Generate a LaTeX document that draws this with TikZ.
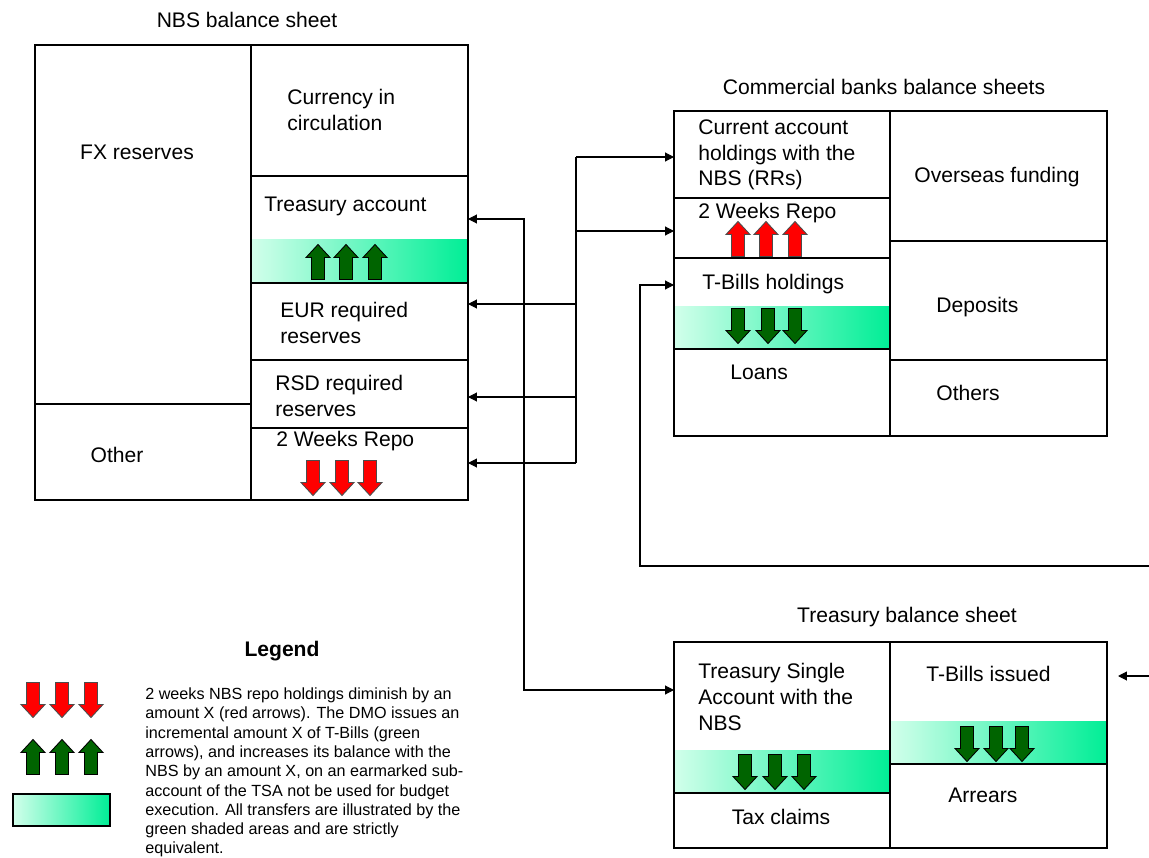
\documentclass[tikz,border=0pt]{standalone}
\usepackage{fontspec}
\setmainfont{Liberation Sans}
\usetikzlibrary{arrows.meta}

\definecolor{mintpale}{RGB}{210,255,235}
\definecolor{mintbright}{RGB}{0,238,150}
\definecolor{arrred}{RGB}{255,0,0}
\definecolor{arrgreen}{RGB}{0,100,0}

\tikzset{
    cell/.style={draw, line width=0.6pt},
    lbl/.style={font=\fontsize{12}{14.6}\selectfont, align=left, inner sep=0pt},
    note/.style={font=\fontsize{9.2}{11}\selectfont, align=left, inner sep=0pt},
    band/.style={left color=mintpale, right color=mintbright},
    flow/.style={line width=0.6pt, -{Triangle[length=5pt,width=5pt]}},
    uparr/.pic={\draw[pic actions, line width=0.5pt] (-6.5,17.5) -- (6.5,17.5) -- (6.5,-4.5) -- (12,-4.5) -- (0,-17.5) -- (-12,-4.5) -- (-6.5,-4.5) -- cycle;},
    redup/.style={fill=arrred, draw=black!70},
    greenup/.style={fill=arrgreen, draw=black}
}

\begin{document}
\begin{tikzpicture}[x=0.02cm, y=-0.02cm]
    \useasboundingbox (0,0) rectangle (1149,858);

    % NBS balance sheet
    \shade[band] (251,240) rectangle (468,283);
    \draw[cell] (35,45) rectangle (468,500);
    \draw[cell] (251,45) -- (251,500);
    \draw[cell] (35,404) -- (251,404);
    \foreach \y in {176,283,360,428}
        \draw[cell] (251,\y) -- (468,\y);
    \node[lbl] (nbstitle) at (247,20) {NBS balance sheet};
    \node[lbl] (fx) at (137,152) {FX reserves};
    \node[lbl] (other) at (117,455) {Other};
    \node[lbl, anchor=west] (cic) at (287,110) {Currency in\\circulation};
    \node[lbl, anchor=west] (tacc) at (264,206) {Treasury account};
    \node[lbl, anchor=west] (eur) at (280,323) {EUR required\\reserves};
    \node[lbl, anchor=west] (rsd) at (275,396) {RSD required\\reserves};
    \node[lbl, anchor=west] (nbsrepo) at (276,441) {2 Weeks Repo};
    \foreach \x in {318,346,375}
        \pic[greenup] at (\x,262) {uparr};
    \foreach \x in {313,342,370}
        \pic[redup, rotate=180] at (\x,478) {uparr};

    % Commercial banks balance sheets
    \shade[band] (674,306) rectangle (890,349);
    \draw[cell] (674,111) rectangle (1107,436);
    \draw[cell] (890,111) -- (890,436);
    \foreach \y in {198,258,349}
        \draw[cell] (674,\y) -- (890,\y);
    \foreach \y in {241,360}
        \draw[cell] (890,\y) -- (1107,\y);
    \node[lbl] (cbtitle) at (884,87) {Commercial banks balance sheets};
    \node[lbl, anchor=west] (curacc) at (698,155) {Current account\\holdings with the\\NBS (RRs)};
    \node[lbl, anchor=west] (cbrepo) at (698,213) {2 Weeks Repo};
    \node[lbl, anchor=west] (tbhold) at (702,284) {T-Bills holdings};
    \node[lbl, anchor=west] (loans) at (730,372) {Loans};
    \node[lbl, anchor=west] (overseas) at (914,177) {Overseas funding};
    \node[lbl, anchor=west] (deposits) at (936,307) {Deposits};
    \node[lbl, anchor=west] (others) at (936,393) {Others};
    \foreach \x in {738,766,795}
        \pic[redup] at (\x,239) {uparr};
    \foreach \x in {738,768,795}
        \pic[greenup, rotate=180] at (\x,326) {uparr};

    % Treasury balance sheet
    \shade[band] (674,750) rectangle (890,793);
    \shade[band] (890,721) rectangle (1107,764);
    \draw[cell] (674,642) rectangle (1107,848);
    \draw[cell] (890,642) -- (890,848);
    \draw[cell] (674,793) -- (890,793);
    \draw[cell] (890,764) -- (1107,764);
    \node[lbl] (trtitle) at (907,617) {Treasury balance sheet};
    \node[lbl, anchor=west] (tsa) at (698,697) {Treasury Single\\Account with the\\NBS};
    \node[lbl] (tax) at (781,817) {Tax claims};
    \node[lbl, anchor=west] (tbiss) at (926,674) {T-Bills issued};
    \node[lbl, anchor=west] (arrears) at (948,795) {Arrears};
    \foreach \x in {745,775,804}
        \pic[greenup, rotate=180] at (\x,772) {uparr};
    \foreach \x in {967,996,1022}
        \pic[greenup, rotate=180] at (\x,744) {uparr};

    % connectors
    \coordinate (jca) at (576,157);
    \coordinate (jrp) at (576,231);
    \coordinate (jeur) at (576,304);
    \coordinate (jrsd) at (576,397);
    \coordinate (jrepo) at (576,463);
    \coordinate (cain) at (674,157);
    \coordinate (rpin) at (674,231);
    \coordinate (eurin) at (468,304);
    \coordinate (rsdin) at (468,397);
    \coordinate (repoin) at (468,463);
    \draw[line width=0.6pt] (jca) -- (jrepo);
    \draw[flow] (jca) -- (cain);
    \draw[flow] (jrp) -- (rpin);
    \draw[flow] (jeur) -- (eurin);
    \draw[flow] (jrsd) -- (rsdin);
    \draw[flow] (jrepo) -- (repoin);

    \coordinate (tain) at (468,219);
    \coordinate (tsabend) at (524,690);
    \coordinate (tsain) at (674,690);
    \draw[line width=0.6pt, {Triangle[length=5pt,width=5pt]}-{Triangle[length=5pt,width=5pt]}] (tain) -| (tsabend) -- (tsain);

    \coordinate (tbout) at (1149,566);
    \coordinate (tbbend) at (640,285);
    \coordinate (tbin) at (674,285);
    \draw[flow] (tbout) -| (tbbend) -- (tbin);

    \coordinate (issout) at (1149,676);
    \coordinate (issin) at (1118,676);
    \draw[flow] (issout) -- (issin);

    % legend
    \node[lbl, font=\fontsize{12}{14.6}\bfseries] (legtitle) at (282,651) {Legend};
    \foreach \x in {33,62,91}
        \pic[redup, rotate=180] at (\x,700) {uparr};
    \foreach \x in {33,62,91}
        \pic[greenup] at (\x,757) {uparr};
    \shade[band] (13,794) rectangle (110,826);
    \draw[cell] (13,794) rectangle (110,826);
    \node[note, anchor=west] (legtext) at (145,772.5) {2 weeks NBS repo holdings diminish by an\\amount X (red arrows). The DMO issues an\\incremental amount X of T-Bills (green\\arrows), and increases its balance with the\\NBS by an amount X, on an earmarked sub-\\account of the TSA not be used for budget\\execution. All transfers are illustrated by the\\green shaded areas and are strictly\\equivalent.};
\end{tikzpicture}
\end{document}
